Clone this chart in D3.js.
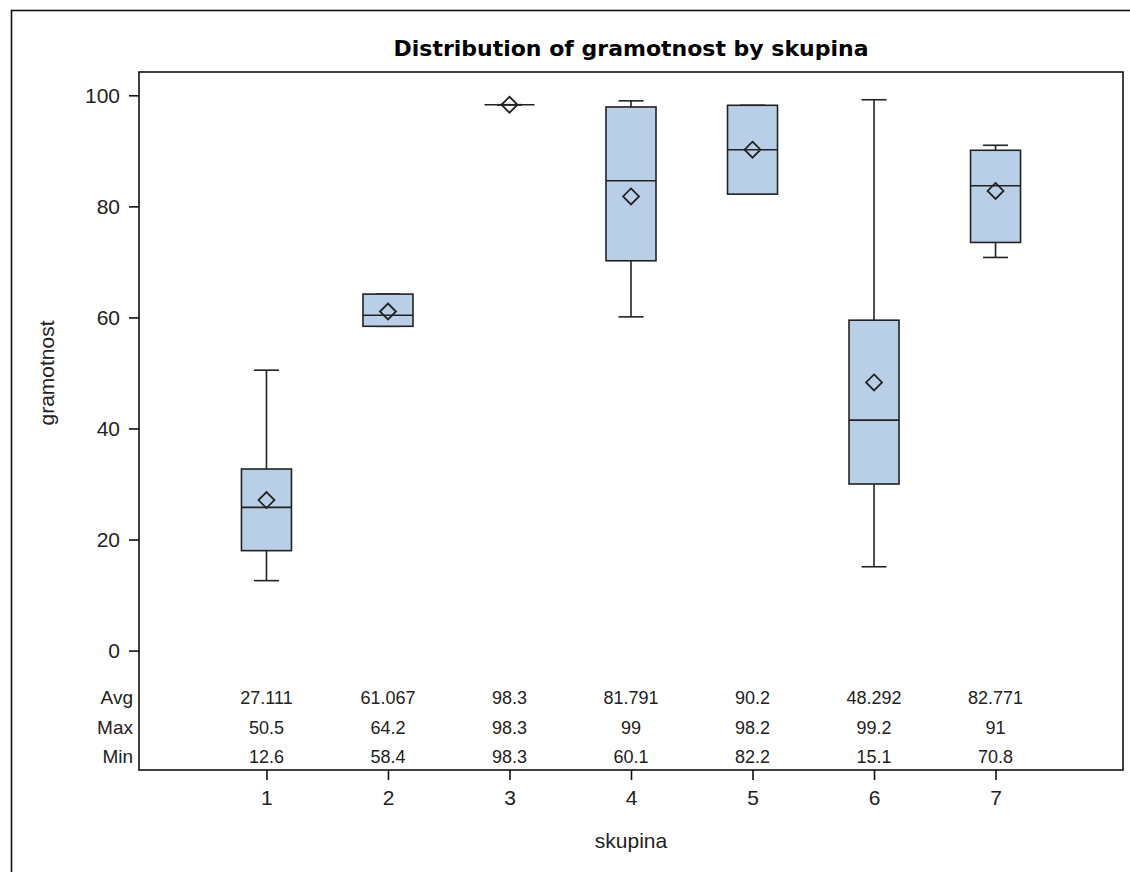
<!DOCTYPE html>
<html>
<head>
<meta charset="utf-8">
<script src="https://cdn.jsdelivr.net/npm/d3@7"></script>
<style>
  html, body { margin: 0; padding: 0; background: #fff; }
  svg { display: block; }
</style>
</head>
<body>
<svg id="chart" width="1130" height="872"></svg>
<script>
// ---- data ----
const categories = ["1", "2", "3", "4", "5", "6", "7"];
const q1Values     = [18.0, 58.4, 98.3, 70.2, 82.2, 30.0, 73.5];
const medianValues = [25.8, 60.4, 98.3, 84.6, 90.2, 41.5, 83.7];
const q3Values     = [32.7, 64.2, 98.3, 97.9, 98.2, 59.5, 90.1];
const minValues    = [12.6, 58.4, 98.3, 60.1, 82.2, 15.1, 70.8];
const maxValues    = [50.5, 64.2, 98.3, 99, 98.2, 99.2, 91];
const avgValues    = [27.111, 61.067, 98.3, 81.791, 90.2, 48.292, 82.771];
const yTicks = [0, 20, 40, 60, 80, 100];
const statRows = ["Avg", "Max", "Min"];
const titleText = "Distribution of gramotnost by skupina";
const xLabel = "skupina";
const yLabel = "gramotnost";

// ---- layout ----
const svg = d3.select("#chart");
const plot = { left: 139, right: 1123, top: 72, bottom: 770 };
const boxFill = "#b9cfe7";
const ink = "#222";

const x = d3.scalePoint().domain(categories).range([plot.left, plot.right]).padding(1.049);
const y = d3.scaleLinear().domain([0, 100]).range([650.6, 95.3]);

const data = categories.map((c, i) => ({
  c, q1: q1Values[i], med: medianValues[i], q3: q3Values[i],
  min: minValues[i], max: maxValues[i], avg: avgValues[i]
}));

// outer frame (clipped by the canvas)
svg.append("rect")
  .attr("x", 11.5).attr("y", 10.5).attr("width", 1200).attr("height", 1000)
  .attr("fill", "none").attr("stroke", "#111").attr("stroke-width", 1.6);

// title
svg.append("text")
  .attr("x", (plot.left + plot.right) / 2).attr("y", 56)
  .attr("text-anchor", "middle")
  .attr("font-family", "DejaVu Sans").attr("font-weight", "bold")
  .attr("font-size", 22).attr("fill", "#000")
  .text(titleText);

// boxes
const boxW = 50, capW = 25;
const g = svg.append("g").attr("stroke", ink).attr("stroke-width", 1.6);
data.forEach(d => {
  const cx = x(d.c);
  // whiskers
  g.append("line").attr("x1", cx).attr("x2", cx).attr("y1", y(d.max)).attr("y2", y(d.q3));
  g.append("line").attr("x1", cx).attr("x2", cx).attr("y1", y(d.q1)).attr("y2", y(d.min));
  g.append("line").attr("x1", cx - capW / 2).attr("x2", cx + capW / 2).attr("y1", y(d.max)).attr("y2", y(d.max));
  g.append("line").attr("x1", cx - capW / 2).attr("x2", cx + capW / 2).attr("y1", y(d.min)).attr("y2", y(d.min));
  // box
  g.append("rect")
    .attr("x", cx - boxW / 2).attr("y", y(d.q3))
    .attr("width", boxW).attr("height", Math.max(0, y(d.q1) - y(d.q3)))
    .attr("fill", boxFill);
  // median
  g.append("line").attr("x1", cx - boxW / 2).attr("x2", cx + boxW / 2).attr("y1", y(d.med)).attr("y2", y(d.med));
  // mean diamond
  const my = y(d.avg), r = 8;
  g.append("path")
    .attr("d", `M${cx},${my - r}L${cx + r},${my}L${cx},${my + r}L${cx - r},${my}Z`)
    .attr("fill", "none").attr("stroke-width", 1.8);
});

// plot frame
svg.append("rect")
  .attr("x", plot.left).attr("y", plot.top)
  .attr("width", plot.right - plot.left).attr("height", plot.bottom - plot.top)
  .attr("fill", "none").attr("stroke", "#111").attr("stroke-width", 1.6);

// y axis
const yAxis = d3.axisLeft(y).tickValues(yTicks).tickSize(10).tickPadding(9).tickFormat(d3.format("d"));
const yg = svg.append("g").attr("transform", `translate(${plot.left},0)`).call(yAxis);
yg.select(".domain").remove();
yg.selectAll(".tick line").attr("stroke", "#111").attr("stroke-width", 1.6);
yg.selectAll(".tick text").attr("font-family", "Liberation Sans, Arial, sans-serif")
  .attr("font-size", 21).attr("fill", ink);

// x axis
const xAxis = d3.axisBottom(x).tickSize(10).tickPadding(10);
const xg = svg.append("g").attr("transform", `translate(0,${plot.bottom})`).call(xAxis);
xg.select(".domain").remove();
xg.selectAll(".tick line").attr("stroke", "#111").attr("stroke-width", 1.6);
xg.selectAll(".tick text").attr("font-family", "Liberation Sans, Arial, sans-serif")
  .attr("font-size", 21).attr("fill", ink);

// stats table
const fmt = v => String(Math.round(v * 1000) / 1000);
const rowBase = [704.3, 734, 763.3];
const rowValues = [avgValues, maxValues, minValues];
statRows.forEach((lab, ri) => {
  svg.append("text")
    .attr("x", 133).attr("y", rowBase[ri]).attr("text-anchor", "end")
    .attr("font-family", "Liberation Sans, Arial, sans-serif").attr("font-size", 19)
    .attr("fill", ink).text(lab);
  svg.selectAll(null).data(categories).enter().append("text")
    .attr("x", d => x(d)).attr("y", rowBase[ri]).attr("text-anchor", "middle")
    .attr("font-family", "Liberation Sans, Arial, sans-serif").attr("font-size", 18)
    .attr("fill", ink).text((d, i) => fmt(rowValues[ri][i]));
});

// axis labels
svg.append("text")
  .attr("x", (plot.left + plot.right) / 2).attr("y", 848)
  .attr("text-anchor", "middle")
  .attr("font-family", "Liberation Sans, Arial, sans-serif").attr("font-size", 21)
  .attr("fill", ink).text(xLabel);
svg.append("text")
  .attr("transform", `translate(54,${(plot.top + plot.bottom) / 2 - 48}) rotate(-90)`)
  .attr("text-anchor", "middle")
  .attr("font-family", "Liberation Sans, Arial, sans-serif").attr("font-size", 21)
  .attr("fill", ink).text(yLabel);
</script>
</body>
</html>
